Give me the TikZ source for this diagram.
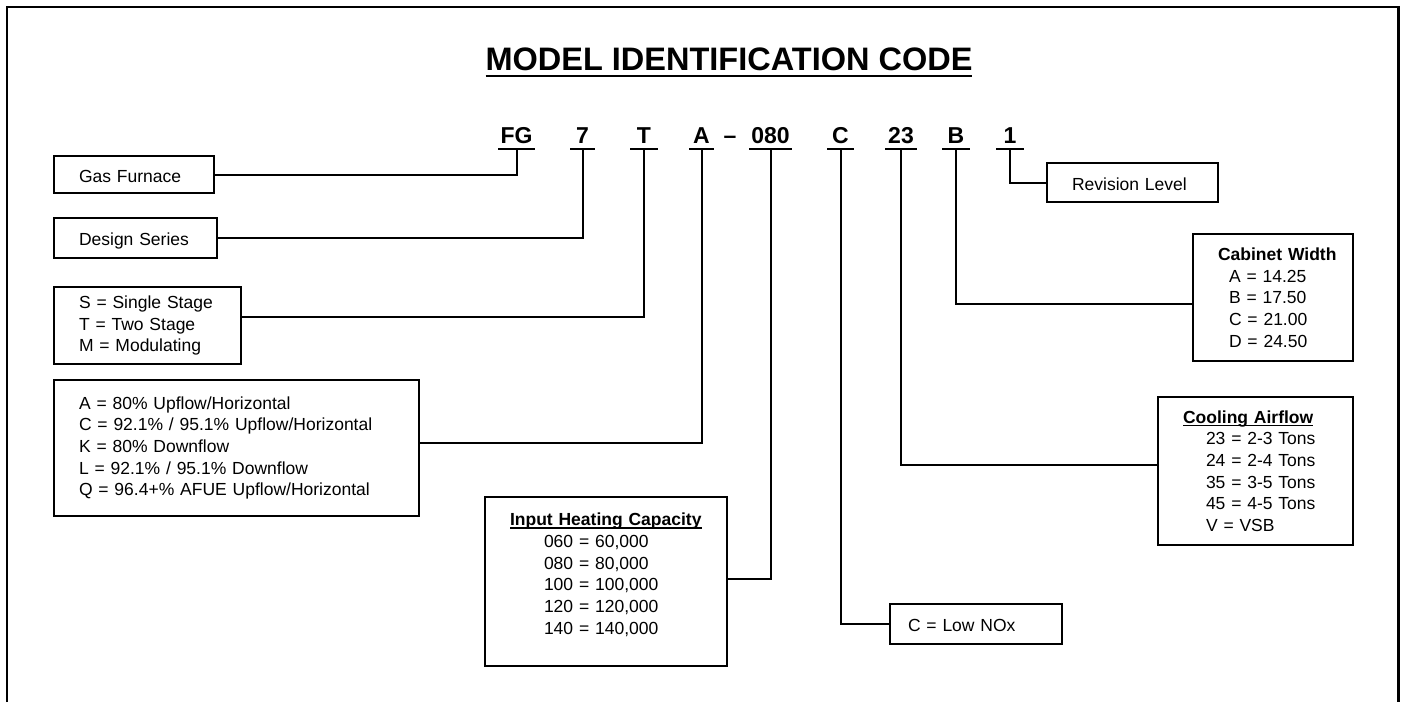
\documentclass[tikz,border=0pt]{standalone}
\usepackage{fontspec}
\setmainfont{Liberation Sans}
\newsavebox{\ulbox}
\newcommand{\ulbar}[3]{\sbox{\ulbox}{#3}\rlap{\rule[-#1]{\wd\ulbox}{#2}}\usebox{\ulbox}}

\begin{document}
\begin{tikzpicture}[x=1pt, y=-1pt, line width=2pt,
      box/.style={draw, anchor=west, inner xsep=25pt, inner ysep=0pt, align=left,
        font=\fontsize{17.5}{21.7}\selectfont},
      onebox/.style={box, text height=15pt, text depth=0pt},
      code/.style={font=\fontsize{23}{23}\selectfont\bfseries, anchor=base,
        inner xsep=0pt, inner ysep=5pt, text depth=0pt}]
    \useasboundingbox (0,0) rectangle (1401,702);
    \draw[line width=2.6pt] (7,702) -- (7,7) -- (1398.5,7) -- (1398.5,702);
    \node[font=\fontsize{32.5}{34}\selectfont\bfseries, anchor=base] (title) at (729,70)
      {\ulbar{7pt}{2.5pt}{MODEL IDENTIFICATION CODE}};
    % name / x / bar width / digit
    \foreach \k/\x/\w/\t in {kfg/516.5/35/FG, kser/582.5/23/7, kstg/644/26/T,
        keff/701.5/23/A, kcap/770.5/41/080, knox/840.5/25/C, kair/901/30/23,
        kwid/956/26/B, krev/1010/26/1}
      \node[code, minimum width=\w pt] (\k) at (\x,143) {\t};
    \node[code] (dash) at (730,143) {\textendash};
    % left column
    \node[onebox, text width=110pt, minimum height=37pt] (gas) at (53,174.5) {Gas Furnace};
    \node[onebox, text width=113pt, minimum height=40pt] (series) at (53,238) {Design Series};
    \node[box, text width=137pt, minimum height=77pt] (stage) at (53,325.5)
      {S = Single Stage\\T = Two Stage\\M = Modulating};
    \node[box, text width=315pt, minimum height=136pt] (eff) at (53,448)
      {A = 80\% Upflow/Horizontal\\C = 92.1\% / 95.1\% Upflow/Horizontal\\
       K = 80\% Downflow\\L = 92.1\% / 95.1\% Downflow\\Q = 96.4+\% AFUE Upflow/Horizontal};
    \node[box, text width=192pt, minimum height=169pt] (heat) at (484,581.5)
      {\ulbar{3pt}{1.3pt}{\textbf{Input Heating Capacity}}\\
       \hspace*{34pt}060 = 60,000\\\hspace*{34pt}080 = 80,000\\
       \hspace*{34pt}100 = 100,000\\\hspace*{34pt}120 = 120,000\\
       \hspace*{34pt}140 = 140,000\\[-6pt]\mbox{}};
    % right column
    \node[onebox, inner xsep=18pt, text width=136pt, minimum height=40pt] (nox) at (889,624)
      {C = Low NOx};
    \node[box, text width=145pt, minimum height=148pt] (cool) at (1157,471)
      {\ulbar{3pt}{1.3pt}{\textbf{Cooling Airflow}}\\
       \hspace*{23pt}23 = 2-3 Tons\\\hspace*{23pt}24 = 2-4 Tons\\
       \hspace*{23pt}35 = 3-5 Tons\\\hspace*{23pt}45 = 4-5 Tons\\\hspace*{23pt}V = VSB};
    \node[box, text width=110pt, minimum height=127pt] (wid) at (1192,297.5)
      {\mbox{\textbf{Cabinet Width}}\\\hspace*{11pt}A = 14.25\\\hspace*{11pt}B = 17.50\\
       \hspace*{11pt}C = 21.00\\\hspace*{11pt}D = 24.50};
    \node[onebox, text width=121pt, minimum height=39pt] (rev) at (1046,182.5) {Revision Level};
    % bar, then down and across to its box
    \foreach \k/\b/\dy in {kfg/gas.east/0, kser/series.east/0, kstg/stage.east/9,
        keff/eff.east/5, kcap/heat.east/2.5, knox/nox.west/0, kair/cool.west/6,
        kwid/wid.west/-6.5, krev/rev.west/0}
      \draw (\k.south west) -- (\k.south east) (\k.south) |- ([yshift=\dy pt]\b);
  \end{tikzpicture}
\end{document}
